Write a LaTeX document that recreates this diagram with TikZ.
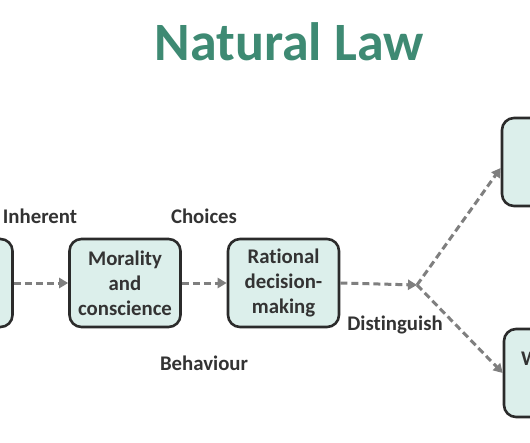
\documentclass[tikz,border=0pt]{standalone}
\usepackage{fontspec}
\setmainfont{Carlito}[Ligatures=CommonOff]
\usetikzlibrary{arrows.meta,calc}
\definecolor{titlegreen}{HTML}{3E8A73}
\definecolor{boxfill}{HTML}{DCEFEB}
\definecolor{boxline}{HTML}{2B2B2B}
\definecolor{txt}{HTML}{333333}
\definecolor{arrowgray}{HTML}{7F7F7F}
\begin{document}
\begin{tikzpicture}[x=1pt,y=-1pt,
  box/.style={draw=boxline, line width=2.6pt, fill=boxfill, rounded corners=12pt,
    minimum width=111pt, minimum height=88pt, align=center,
    font=\fontsize{20.8}{25}\selectfont\bfseries, text=txt, inner sep=0pt},
  lbl/.style={font=\fontsize{20.8}{24}\selectfont\bfseries, text=txt, inner sep=0pt},
  conn/.style={draw=arrowgray, line width=3pt, dash pattern=on 7pt off 4pt},
  tip/.style={-{Triangle[length=9pt,width=10pt]}}]
\useasboundingbox (0,0) rectangle (530,442);
\clip (0,0) rectangle (530,442);
\fill[white] (0,0) rectangle (530,442);
% title
\node[font=\fontsize{54}{60}\selectfont\bfseries, text=titlegreen, inner sep=0pt] (title) at (289,42) {Natural Law};
% boxes
\node[box] (L) at (-43,283) {};
\node[box] (M) at (125,283) {Morality\\and\\conscience};
\node[box] (R) at (283.5,283) {Rational\\decision-\\making};
\node[box] (T) at (557.5,162) {};
\node[box] (B) at (559.5,373) {};
\node[lbl, anchor=west] (Btext) at (521,361) {Wrong};
% junction
\coordinate (J) at (417,285);
\coordinate (Tend) at ($(T.west)+(0,6)$);
% connectors
\draw[conn,tip] (L.east) -- (M.west);
\draw[conn,tip] (M.east) -- (R.west);
\draw[conn,tip] (R.east) -- (J);
\draw[conn,tip] (J) -- (Tend);
\draw[conn,tip] (J) -- (B.west);
% labels
\node[lbl] (inh) at (40,216) {Inherent};
\node[lbl] (cho) at (204,216) {Choices};
\node[lbl] (beh) at (204,363) {Behaviour};
\node[lbl] (dis) at (395,325) {Distinguish};
\end{tikzpicture}
\end{document}
